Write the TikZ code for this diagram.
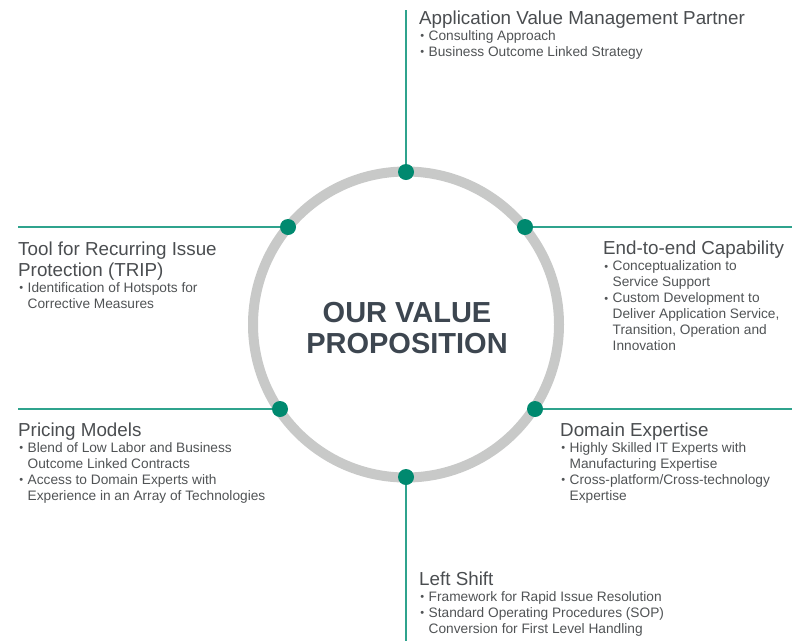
\documentclass[tikz,border=0pt]{standalone}
\usepackage{fontspec}
\setmainfont{Liberation Sans}
\definecolor{ringgray}{HTML}{C8C9C8}
\definecolor{dotteal}{HTML}{00896F}
\definecolor{lineteal}{HTML}{2FA38D}
\definecolor{titlegray}{HTML}{4A4D50}
\definecolor{bulletgray}{HTML}{505355}
\definecolor{centergray}{HTML}{3D4650}
\newcommand{\bul}{\makebox[9.5pt][l]{\hspace{1.2pt}\fontsize{11}{11}\selectfont\raisebox{0.3pt}{•}}}
\newcommand{\cont}{\hspace*{9.5pt}}
\tikzset{
  ttl/.style={anchor=base west, inner sep=0pt, text=titlegray, font=\fontsize{18.8}{21}\selectfont, align=left},
  bullets/.style={anchor=base west, inner sep=0pt, text=bulletgray, font=\fontsize{13.7}{16}\selectfont},
  conn/.style={draw=lineteal, line width=1.4pt},
  dotc/.style={circle, fill=dotteal, minimum size=16pt, inner sep=0pt},
}
\begin{document}
\begin{tikzpicture}[x=1pt,y=-1pt]
\useasboundingbox (0,0) rectangle (792,641);
% ring
\coordinate (c) at (406,324.5);
\draw[ringgray, line width=10pt] (c) circle (153);
% dots
\node[dotc] (dT) at (406,172) {};
\node[dotc] (dB) at (406,477) {};
\node[dotc] (dTL) at (288,227) {};
\node[dotc] (dTR) at (525,227) {};
\node[dotc] (dBL) at (280,409) {};
\node[dotc] (dBR) at (535,409) {};
% connector ends
\coordinate (eT) at (406,10);
\coordinate (eB) at (406,641);
\coordinate (eTL) at (18,227);
\coordinate (eTR) at (792,227);
\coordinate (eBL) at (18,409);
\coordinate (eBR) at (792,409);
\draw[conn] (eT) -- (dT.north);
\draw[conn] (dB.south) -- (eB);
\draw[conn] (eTL) -- (dTL.west);
\draw[conn] (dTR.east) -- (eTR);
\draw[conn] (eBL) -- (dBL.west);
\draw[conn] (dBR.east) -- (eBR);
% center
\node[text=centergray, font=\fontsize{29}{31}\selectfont\bfseries, anchor=base, inner sep=0pt] (c1) at (407,322) {OUR VALUE};
\node[text=centergray, font=\fontsize{29}{31}\selectfont\bfseries, anchor=base, inner sep=0pt] (c2) at (407,353) {PROPOSITION};
% top
\node[ttl] (t1) at (419,24) {Application Value Management Partner};
\node[bullets] (b1) at (419,40) {\begin{tabular}[t]{@{}l@{}}\bul Consulting Approach\\ \bul Business Outcome Linked Strategy\end{tabular}};
% TRIP
\node[ttl] (t2) at (18,255) {\begin{tabular}[t]{@{}l@{}}Tool for Recurring Issue\\ Protection (TRIP)\end{tabular}};
\node[bullets] (b2) at (18,292) {\begin{tabular}[t]{@{}l@{}}\bul Identification of Hotspots for\\ \cont Corrective Measures\end{tabular}};
% End-to-end
\node[ttl] (t3) at (603,254.5) {End-to-end Capability};
\node[bullets] (b3) at (603,270.5) {\begin{tabular}[t]{@{}l@{}}\bul Conceptualization to\\ \cont Service Support\\ \bul Custom Development to\\ \cont Deliver Application Service,\\ \cont Transition, Operation and\\ \cont Innovation\end{tabular}};
% Pricing
\node[ttl] (t4) at (18,436) {Pricing Models};
\node[bullets] (b4) at (18,452) {\begin{tabular}[t]{@{}l@{}}\bul Blend of Low Labor and Business\\ \cont Outcome Linked Contracts\\ \bul Access to Domain Experts with\\ \cont Experience in an Array of Technologies\end{tabular}};
% Domain
\node[ttl] (t5) at (560,436) {Domain Expertise};
\node[bullets] (b5) at (560,452) {\begin{tabular}[t]{@{}l@{}}\bul Highly Skilled IT Experts with\\ \cont Manufacturing Expertise\\ \bul Cross-platform/Cross-technology\\ \cont Expertise\end{tabular}};
% Left shift
\node[ttl] (t6) at (419,585) {Left Shift};
\node[bullets] (b6) at (419,601) {\begin{tabular}[t]{@{}l@{}}\bul Framework for Rapid Issue Resolution\\ \bul Standard Operating Procedures (SOP)\\ \cont Conversion for First Level Handling\end{tabular}};
\end{tikzpicture}
\end{document}
